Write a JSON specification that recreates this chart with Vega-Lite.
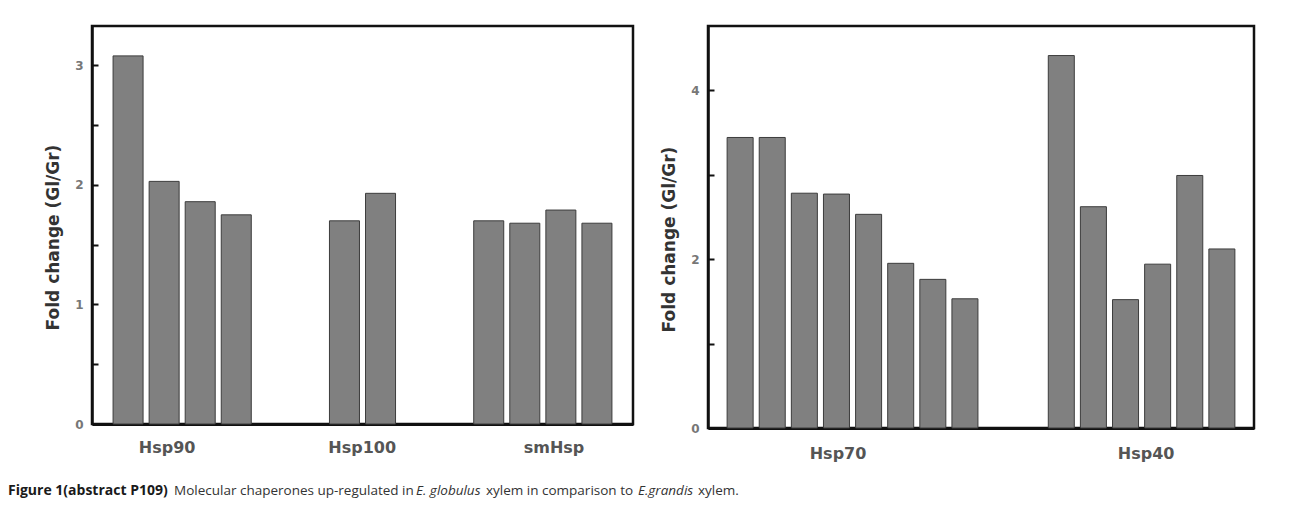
{
  "$schema": "https://vega.github.io/schema/vega-lite/v6.json",
  "padding": {"left": 8, "top": 24, "right": 0, "bottom": 0},
  "background": "white",
  "bounds": "flush",
  "align": "all",
  "columns": 2,
  "spacing": {"column": 70, "row": 53},
  "datasets": {
    "left": [
      {"bar": "Hsp90 1", "group": "Hsp90", "value": 3.08},
      {"bar": "Hsp90 2", "group": "Hsp90", "value": 2.03},
      {"bar": "Hsp90 3", "group": "Hsp90", "value": 1.86},
      {"bar": "Hsp90 4", "group": "Hsp90", "value": 1.75},
      {"bar": "Hsp100 1", "group": "Hsp100", "value": 1.70},
      {"bar": "Hsp100 2", "group": "Hsp100", "value": 1.93},
      {"bar": "smHsp 1", "group": "smHsp", "value": 1.70},
      {"bar": "smHsp 2", "group": "smHsp", "value": 1.68},
      {"bar": "smHsp 3", "group": "smHsp", "value": 1.79},
      {"bar": "smHsp 4", "group": "smHsp", "value": 1.68}
    ],
    "right": [
      {"bar": "Hsp70 1", "group": "Hsp70", "value": 3.44},
      {"bar": "Hsp70 2", "group": "Hsp70", "value": 3.44},
      {"bar": "Hsp70 3", "group": "Hsp70", "value": 2.78},
      {"bar": "Hsp70 4", "group": "Hsp70", "value": 2.77},
      {"bar": "Hsp70 5", "group": "Hsp70", "value": 2.53},
      {"bar": "Hsp70 6", "group": "Hsp70", "value": 1.95},
      {"bar": "Hsp70 7", "group": "Hsp70", "value": 1.76},
      {"bar": "Hsp70 8", "group": "Hsp70", "value": 1.53},
      {"bar": "Hsp40 1", "group": "Hsp40", "value": 4.41},
      {"bar": "Hsp40 2", "group": "Hsp40", "value": 2.62},
      {"bar": "Hsp40 3", "group": "Hsp40", "value": 1.52},
      {"bar": "Hsp40 4", "group": "Hsp40", "value": 1.94},
      {"bar": "Hsp40 5", "group": "Hsp40", "value": 2.99},
      {"bar": "Hsp40 6", "group": "Hsp40", "value": 2.12}
    ]
  },
  "concat": [
    {
      "width": 541,
      "height": 398,
      "view": {"stroke": "#111111", "strokeWidth": 2.5},
      "layer": [
        {
          "data": {"name": "left"},
          "mark": {"type": "bar", "fill": "#808080", "stroke": "#3c3c3c", "strokeWidth": 1},
          "encoding": {
            "x": {
              "field": "bar", "type": "nominal",
              "scale": {"domain": ["Hsp90 1", "Hsp90 2", "Hsp90 3", "Hsp90 4", "gap1", "gap2", "Hsp100 1", "Hsp100 2", "gap3", "gap4", "smHsp 1", "smHsp 2", "smHsp 3", "smHsp 4"], "paddingInner": 0.168, "paddingOuter": 0.584},
              "axis": {"title": null, "labels": false, "ticks": false, "domainColor": "#111111", "domainWidth": 3}
            },
            "y": {
              "field": "value", "type": "quantitative",
              "scale": {"domain": [0, 3.33], "nice": false},
              "axis": {"title": "Fold change (Gl/Gr)", "titleY": 211, "values": [0, 0.5, 1, 1.5, 2, 2.5, 3], "labelExpr": "datum.value % 1 === 0 ? format(datum.value, 'd') : ''"}
            }
          }
        },
        {
          "data": {"values": [{}]},
          "mark": {"type": "text", "text": "Hsp90", "font": "DejaVu Sans", "fontWeight": "bold", "fontSize": 16, "fill": "#555555", "baseline": "middle", "align": "center"},
          "encoding": {"x": {"datum": "Hsp90 2", "type": "nominal", "bandPosition": 0.6}, "y": {"datum": -0.2, "type": "quantitative"}}
        },
        {
          "data": {"values": [{}]},
          "mark": {"type": "text", "text": "Hsp100", "font": "DejaVu Sans", "fontWeight": "bold", "fontSize": 16, "fill": "#555555", "baseline": "middle", "align": "center"},
          "encoding": {"x": {"datum": "Hsp100 1", "type": "nominal", "bandPosition": 1.09}, "y": {"datum": -0.2, "type": "quantitative"}}
        },
        {
          "data": {"values": [{}]},
          "mark": {"type": "text", "text": "smHsp", "font": "DejaVu Sans", "fontWeight": "bold", "fontSize": 16, "fill": "#555555", "baseline": "middle", "align": "center"},
          "encoding": {"x": {"datum": "smHsp 3", "type": "nominal", "bandPosition": 0.27}, "y": {"datum": -0.2, "type": "quantitative"}}
        }
      ]
    },
    {
      "width": 546,
      "height": 402,
      "view": {"stroke": "#111111", "strokeWidth": 2.5},
      "layer": [
        {
          "data": {"name": "right"},
          "mark": {"type": "bar", "fill": "#808080", "stroke": "#3c3c3c", "strokeWidth": 1},
          "encoding": {
            "x": {
              "field": "bar", "type": "nominal",
              "scale": {"domain": ["Hsp70 1", "Hsp70 2", "Hsp70 3", "Hsp70 4", "Hsp70 5", "Hsp70 6", "Hsp70 7", "Hsp70 8", "gap1", "gap2", "Hsp40 1", "Hsp40 2", "Hsp40 3", "Hsp40 4", "Hsp40 5", "Hsp40 6"], "paddingInner": 0.19, "paddingOuter": 0.595},
              "axis": {"title": null, "labels": false, "ticks": false, "domainColor": "#111111", "domainWidth": 3}
            },
            "y": {
              "field": "value", "type": "quantitative",
              "scale": {"domain": [0, 4.76], "nice": false},
              "axis": {"title": "Fold change (Gl/Gr)", "titleY": 213, "values": [0, 1, 2, 3, 4], "labelExpr": "datum.value % 2 === 0 ? format(datum.value, 'd') : ''"}
            }
          }
        },
        {
          "data": {"values": [{}]},
          "mark": {"type": "text", "text": "Hsp70", "font": "DejaVu Sans", "fontWeight": "bold", "fontSize": 16, "fill": "#555555", "baseline": "middle", "align": "center"},
          "encoding": {"x": {"datum": "Hsp70 4", "type": "nominal", "bandPosition": 0.56}, "y": {"datum": -0.31, "type": "quantitative"}}
        },
        {
          "data": {"values": [{}]},
          "mark": {"type": "text", "text": "Hsp40", "font": "DejaVu Sans", "fontWeight": "bold", "fontSize": 16, "fill": "#555555", "baseline": "middle", "align": "center"},
          "encoding": {"x": {"datum": "Hsp40 3", "type": "nominal", "bandPosition": 1.29}, "y": {"datum": -0.31, "type": "quantitative"}}
        }
      ]
    },
    {
      "width": 541,
      "height": 20,
      "data": {"values": [{}]},
      "encoding": {
        "y": {"datum": 0.5, "type": "quantitative", "scale": {"domain": [0, 1], "nice": false}, "axis": null}
      },
      "layer": [
        {"mark": {"type": "text", "text": "Figure 1(abstract P109)", "font": "Open Sans", "fontSize": 14, "fontWeight": "bold", "fill": "#1a1a1a", "align": "left", "baseline": "middle"},
         "encoding": {"x": {"datum": 8, "type": "quantitative", "scale": {"domain": [92, 633], "nice": false, "zero": false}, "axis": null}}},
        {"mark": {"type": "text", "text": "Molecular chaperones up-regulated in", "font": "Open Sans", "fontSize": 13.5, "fill": "#333333", "align": "left", "baseline": "middle"},
         "encoding": {"x": {"datum": 174, "type": "quantitative"}}},
        {"mark": {"type": "text", "text": "E. globulus", "font": "Open Sans", "fontSize": 13.5, "fontStyle": "italic", "fill": "#333333", "align": "left", "baseline": "middle"},
         "encoding": {"x": {"datum": 416, "type": "quantitative"}}},
        {"mark": {"type": "text", "text": "xylem in comparison to", "font": "Open Sans", "fontSize": 13.5, "fill": "#333333", "align": "left", "baseline": "middle"},
         "encoding": {"x": {"datum": 486, "type": "quantitative"}}},
        {"mark": {"type": "text", "text": "E.grandis", "font": "Open Sans", "fontSize": 13.5, "fontStyle": "italic", "fill": "#333333", "align": "left", "baseline": "middle"},
         "encoding": {"x": {"datum": 638, "type": "quantitative"}}},
        {"mark": {"type": "text", "text": "xylem.", "font": "Open Sans", "fontSize": 13.5, "fill": "#333333", "align": "left", "baseline": "middle"},
         "encoding": {"x": {"datum": 698, "type": "quantitative"}}}
      ]
    }
  ],
  "config": {
    "view": {"stroke": null},
    "axisY": {
      "domainColor": "#111111", "domainWidth": 2.5,
      "tickColor": "#111111", "tickWidth": 2, "tickSize": -6,
      "labelFont": "DejaVu Sans", "labelFontSize": 12, "labelFontWeight": "bold", "labelColor": "#777777", "labelPadding": 15,
      "titleFont": "DejaVu Sans", "titleFontSize": 17, "titleFontWeight": "bold", "titleColor": "#333333", "titlePadding": 12,
      "grid": false
    },
    "axisX": {"grid": false}
  }
}
